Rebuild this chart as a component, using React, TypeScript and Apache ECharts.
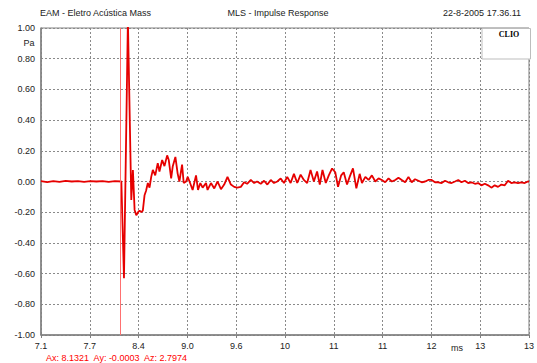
import React, { useEffect, useRef } from "react";
import * as echarts from "echarts";

// ---- data ----
const xTickLabels = ["7.1", "7.7", "8.4", "9.0", "9.6", "10", "11", "11", "12", "13", "13"];
const xMin = 7.1;
const xMax = 13.44;
const cursorAx = 8.1321;
const cursorText = "Ax: 8.1321  Ay: -0.0003  Az: 2.7974";
const titleLeft = "EAM - Eletro Acústica Mass";
const titleCenter = "MLS - Impulse Response";
const titleRight = "22-8-2005 17.36.11";

const timesMs = [
  7.1, 7.18, 7.26, 7.34, 7.42, 7.5, 7.58, 7.66, 7.74, 7.82, 7.9, 7.98, 8.06, 8.144,
  8.178, 8.229, 8.273, 8.294, 8.316, 8.338, 8.361, 8.381, 8.403, 8.423, 8.445, 8.465,
  8.488, 8.51, 8.532, 8.553, 8.584, 8.617, 8.639, 8.674, 8.704, 8.739, 8.76, 8.791,
  8.812, 8.846, 8.876, 8.898, 8.933, 8.954, 8.985, 9.006, 9.037, 9.07, 9.114, 9.14,
  9.17, 9.2,
  9.244, 9.264, 9.308, 9.351, 9.394, 9.438, 9.48, 9.523, 9.567, 9.61, 9.649, 9.696,
  9.739, 9.778, 9.826, 9.869, 9.907, 9.955, 9.998, 10.041, 10.085, 10.127, 10.17,
  10.214, 10.257, 10.299, 10.343, 10.386, 10.429, 10.473, 10.515, 10.558, 10.602,
  10.645, 10.687, 10.722, 10.757, 10.8, 10.839, 10.882, 10.923, 10.959, 11.0, 11.033,
  11.076, 11.11, 11.153, 11.197, 11.24, 11.27, 11.314, 11.356, 11.399, 11.443, 11.486,
  11.528, 11.572, 11.615, 11.658, 11.702, 11.744, 11.787, 11.831, 11.874, 11.916,
  11.96, 12.003, 12.046, 12.09, 12.132, 12.175, 12.219, 12.262, 12.305, 12.349,
  12.391, 12.434, 12.478, 12.521, 12.563, 12.607, 12.65, 12.693, 12.737, 12.779,
  12.822, 12.866, 12.909, 12.951, 12.995, 13.038, 13.081, 13.125, 13.168, 13.21,
  13.254, 13.297, 13.34, 13.384, 13.426, 13.44,
];

const pressurePa = [
  0.002, -0.004, 0.003, -0.002, 0.004, 0.0, 0.003, -0.003, 0.002, 0.0, 0.003, -0.002, 0.002, 0.0,
  -0.63, 1.05, -0.12, 0.075, -0.185, -0.22, -0.2, -0.19, -0.2, -0.19, -0.09, -0.06,
  -0.01, -0.04, 0.03, 0.075, 0.04, 0.12, 0.065, 0.14, 0.1, 0.17, 0.14, 0.02,
  0.1, 0.16, 0.05, 0.0, 0.11, -0.01, 0.0, 0.03, -0.01, -0.055, 0.04, -0.055,
  -0.01, -0.04,
  -0.01, -0.055, -0.01, -0.045, 0.0, -0.05, -0.02, 0.03, -0.02, -0.035, -0.04, -0.035,
  -0.005, -0.015, 0.01, -0.01, 0.0, -0.015, 0.005, -0.02, 0.01, -0.01, 0.0,
  0.02, -0.01, 0.03, -0.01, 0.05, -0.01, 0.045, 0.01, -0.01, 0.075,
  0.0, 0.065, -0.02, 0.075, -0.01, 0.04, 0.085, 0.06, -0.035, 0.04, 0.06,
  -0.02, 0.03, 0.085, -0.045, 0.05, -0.01, 0.03, 0.01, 0.04, 0.0, 0.02,
  0.01, -0.005, 0.02, 0.0, 0.01, 0.025, 0.01, -0.005, 0.03, -0.005,
  0.015, 0.005, -0.005, 0.0, 0.01, 0.01, -0.005, -0.005, -0.01, 0.005,
  -0.005, -0.01, 0.0, 0.01, -0.005, 0.005, -0.01, -0.005, -0.015, -0.01,
  -0.025, -0.015, -0.025, -0.04, -0.025, -0.035, -0.02, -0.025, 0.005, -0.01,
  -0.005, -0.01, -0.005, -0.01, 0.0, 0.0,
];

export default function App() {
  const ref = useRef<HTMLDivElement>(null);

  useEffect(() => {
    if (!ref.current) return;
    const chart = echarts.init(ref.current, null, { renderer: "svg" });
    const data = timesMs.map((t, i) => [t, pressurePa[i]]);
    const font = "Liberation Sans, Arial, sans-serif";

    chart.setOption({
      animation: false,
      backgroundColor: "#ffffff",
      grid: {
        left: 41,
        right: 6,
        top: 28,
        bottom: 28,
        show: true,
        borderColor: "#808080",
        borderWidth: 1,
        backgroundColor: "transparent",
      },
      xAxis: [
        {
          type: "value",
          min: xMin,
          max: xMax,
          show: false,
        },
        {
          type: "value",
          min: 0,
          max: xTickLabels.length - 1,
          interval: 1,
          position: "bottom",
          axisLine: { show: true, lineStyle: { color: "#808080", width: 1.5 } },
          axisTick: { show: true, length: 3, lineStyle: { color: "#808080" } },
          axisLabel: {
            color: "#222",
            fontSize: 9,
            fontFamily: font,
            margin: 6,
            formatter: (v: number) => xTickLabels[Math.round(v)] ?? "",
          },
          splitLine: {
            show: true,
            lineStyle: { color: "#8a8a8a", type: [2, 2], width: 1 },
          },
        },
      ],
      yAxis: {
        type: "value",
        min: -1,
        max: 1,
        interval: 0.2,
        axisLine: { show: true, lineStyle: { color: "#808080", width: 1.5 } },
        axisTick: { show: false },
        axisLabel: {
          color: "#222",
          fontSize: 9,
          fontFamily: font,
          margin: 6,
          formatter: (v: number) => v.toFixed(2),
        },
        splitLine: {
          show: true,
          lineStyle: { color: "#8a8a8a", type: [2, 2], width: 1 },
        },
      },
      series: [
        {
          type: "line",
          xAxisIndex: 0,
          data,
          showSymbol: false,
          symbol: "none",
          clip: true,
          lineStyle: { color: "#e60000", width: 1.8 },
          markLine: {
            silent: true,
            symbol: ["none", "none"],
            label: { show: false },
            lineStyle: { color: "#ff7070", width: 1, type: "solid" },
            data: [{ xAxis: cursorAx }],
          },
          z: 3,
        },
      ],
      graphic: [
        {
          type: "text",
          left: 40,
          top: 8,
          style: { text: titleLeft, fill: "#222", fontSize: 9, fontFamily: font },
        },
        {
          type: "text",
          x: 278,
          y: 8,
          style: { text: titleCenter, fill: "#222", fontSize: 9, fontFamily: font, align: "center" },
        },
        {
          type: "text",
          x: 521,
          y: 8,
          style: { text: titleRight, fill: "#222", fontSize: 9, fontFamily: font, align: "right" },
        },
        {
          type: "text",
          x: 29,
          y: 38,
          style: { text: "Pa", fill: "#222", fontSize: 9, fontFamily: font, align: "center" },
        },
        {
          type: "text",
          x: 457,
          y: 343,
          style: { text: "ms", fill: "#222", fontSize: 9, fontFamily: font, align: "center" },
        },
        {
          type: "text",
          x: 46,
          y: 353,
          style: { text: cursorText, fill: "#ff0000", fontSize: 9, fontFamily: font },
        },
        {
          type: "rect",
          shape: { x: 482, y: 28.5, width: 48.5, height: 30.5 },
          style: { fill: "#ffffff", stroke: "#bdbdbd", lineWidth: 1 },
          z: 10,
        },
        {
          type: "text",
          x: 509,
          y: 30,
          z: 11,
          style: {
            text: "CLIO",
            fill: "#000",
            fontSize: 8,
            fontWeight: "bold",
            fontFamily: "Liberation Serif, Times New Roman, serif",
            align: "center",
          },
        },
      ],
    });

    return () => chart.dispose();
  }, []);

  return <div ref={ref} style={{ width: 537, height: 363, position: "absolute", left: 0, top: 0 }} />;
}
